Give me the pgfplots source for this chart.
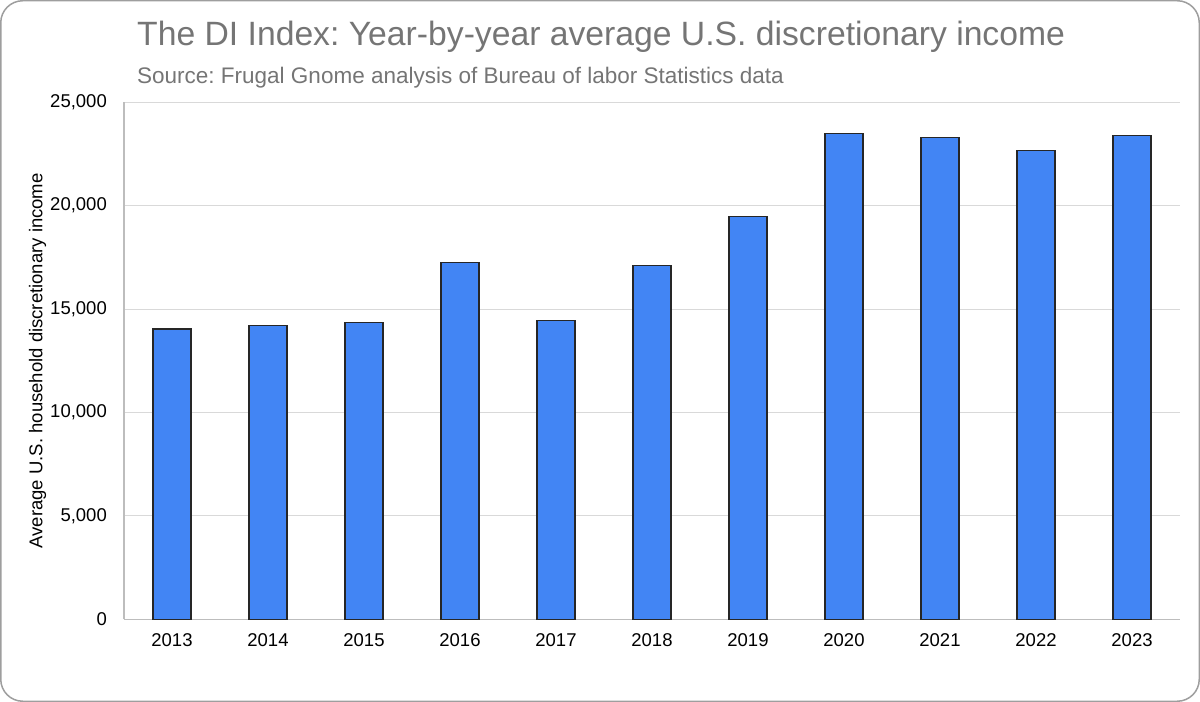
\documentclass[border=0pt]{standalone}
\usepackage{fontspec}
\setmainfont{Liberation Sans}
\usepackage{pgfplots}
\pgfplotsset{compat=1.18}
\frenchspacing

\definecolor{barblue}{HTML}{4285F4}
\definecolor{titlegray}{HTML}{757575}
\definecolor{gridgray}{HTML}{D9D9D9}
\definecolor{axisgray}{HTML}{BDBDBD}
\definecolor{framegray}{HTML}{9E9E9E}

\begin{document}
\begin{tikzpicture}
% outer frame
\draw[framegray, line width=1.5bp, rounded corners=22bp] (0.75bp,0.75bp) rectangle (1199.25bp,701.25bp);
% titles
\node[anchor=base west, text=titlegray, inner sep=0, font=\fontsize{33.7bp}{40bp}\selectfont]
  at (137bp,656.3bp) {The DI Index: Year-by-year average U.S. discretionary income};
\node[anchor=base west, text=titlegray, inner sep=0, font=\fontsize{22.5bp}{26bp}\selectfont]
  at (137bp,618.7bp) {Source: Frugal Gnome analysis of Bureau of labor Statistics data};

\begin{axis}[
    at={(124bp,82.7bp)}, anchor=south west,
    scale only axis, width=1056bp, height=517bp,
    ybar, bar width=38bp,
    xmin=-0.5, xmax=10.5, ymin=0, ymax=25000,
    xtick={0,...,10},
    xticklabels={2013,2014,2015,2016,2017,2018,2019,2020,2021,2022,2023},
    ytick={0,5000,...,25000},
    scaled y ticks=false,
    /pgf/number format/.cd, 1000 sep={,}, assume math mode=true, /pgfplots/.cd,
    ymajorgrids, grid style={gridgray, line width=1bp},
    axis lines*=left,
    axis line style={axisgray, line width=1.2bp},
    major tick length=0pt,
    tick style={draw=none},
    ticklabel style={font=\fontsize{18.5bp}{22bp}\selectfont, text=black},
    yticklabel style={anchor=east, inner sep=0pt, xshift=-17bp},
    xticklabel style={anchor=north, inner sep=0pt, yshift=-14bp},
    ylabel={Average U.S. household discretionary income},
    ylabel style={at={(axis description cs:0,0.5)}, anchor=center, rotate=0, yshift=86.5bp,
      font=\fontsize{18.5bp}{22bp}\selectfont},
]
\addplot[fill=barblue, draw=black!85, line width=1.3bp] coordinates {
    (0,14040) (1,14200) (2,14340) (3,17240) (4,14440) (5,17100)
    (6,19470) (7,23480) (8,23290) (9,22670) (10,23380)
};
\end{axis}
\end{tikzpicture}
\end{document}
